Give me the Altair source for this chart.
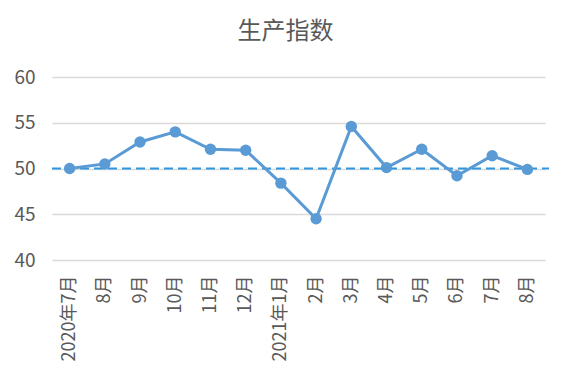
import altair as alt
import pandas as pd

months = ["2020年7月", "8月", "9月", "10月", "11月", "12月", "2021年1月",
          "2月", "3月", "4月", "5月", "6月", "7月", "8月"]
values = [50.0, 50.5, 52.9, 54.0, 52.1, 52.0, 48.4, 44.5, 54.6, 50.1, 52.1, 49.2, 51.4, 49.9]
ref_value = [50]

keys = [f"{i:02d}" for i in range(len(months))]
df = pd.DataFrame({"key": keys, "label": months, "value": values})
ref = pd.DataFrame({"ref": ref_value})

label_expr = "{" + ",".join(f"'{k}':'{m}'" for k, m in zip(keys, months)) + "}[datum.value]"

x = alt.X("key:N", sort=keys, title=None,
          scale=alt.Scale(paddingInner=0, paddingOuter=0),
          axis=alt.Axis(labelAngle=-90, labelExpr=label_expr, labelFontSize=18,
                        labelColor="#595959", labelFont="Noto Sans CJK SC",
                        labelPadding=15, ticks=False, domain=False, grid=False,
                        labelAlign="right", labelBaseline="middle"))
y = alt.Y("value:Q", title=None,
          scale=alt.Scale(domain=[40, 60], nice=False, zero=False),
          axis=alt.Axis(values=[40, 45, 50, 55, 60], labelFontSize=19,
                        labelColor="#595959", labelFont="Noto Sans CJK SC",
                        labelPadding=17, ticks=False, domain=False,
                        gridColor="#d9d9d9", gridWidth=1.5))

line = alt.Chart(df).mark_line(color="#5B9BD5", strokeWidth=3).encode(x=x, y=y)
pts = alt.Chart(df).mark_point(filled=True, color="#5B9BD5", size=130, opacity=1).encode(x=x, y=y)
rule = alt.Chart(ref).mark_rule(color="#2E96E0", strokeDash=[9, 5], strokeWidth=2).encode(
    y=alt.Y("ref:Q", scale=alt.Scale(domain=[40, 60], nice=False, zero=False)),
    x=alt.value(0), x2=alt.value(497))

chart = alt.layer(rule, line, pts).properties(
    width=493, height=183,
    title=alt.TitleParams("生产指数", fontSize=24, color="#595959", font="Noto Sans CJK SC",
                          fontWeight="normal", anchor="middle", dx=-13, offset=24),
    autosize=alt.AutoSizeParams(type="none"),
    padding={"left": 44, "top": 69, "right": 19, "bottom": 111},
    background="white",
).configure_view(stroke=None)

chart.save("out.html", embed_options={"renderer": "svg", "actions": False})
